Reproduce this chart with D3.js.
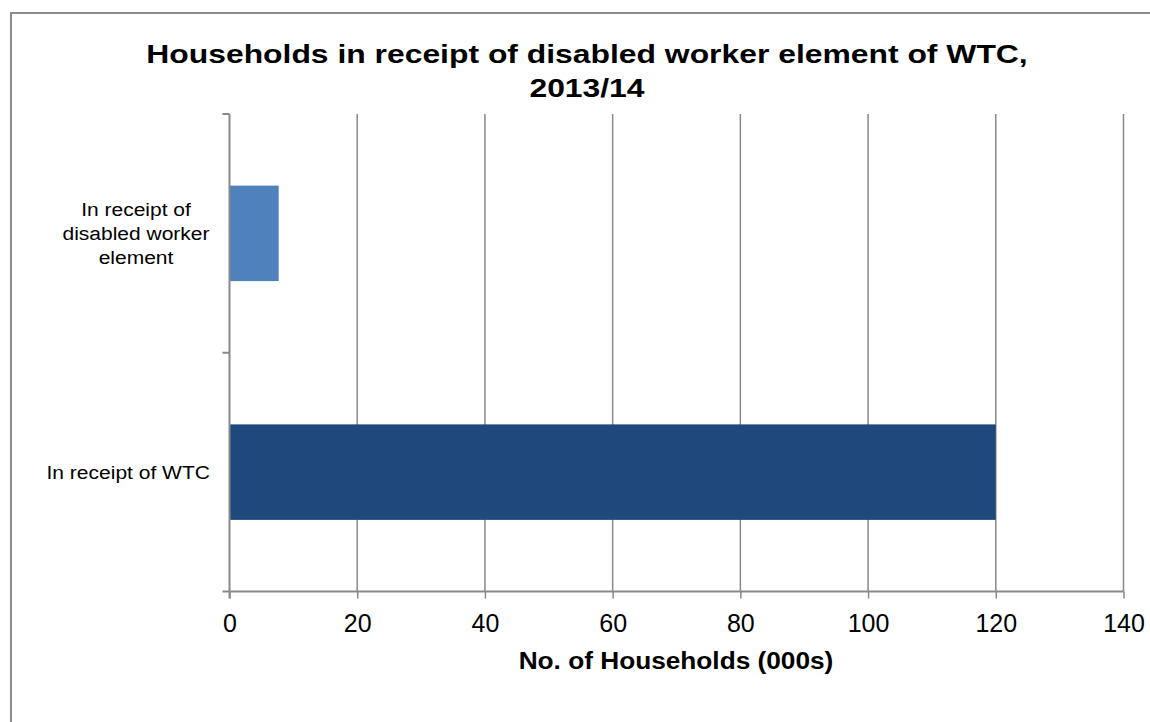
<!DOCTYPE html>
<html>
<head>
<meta charset="utf-8">
<script src="https://cdn.jsdelivr.net/npm/d3@7"></script>
<style>
  html, body { margin: 0; padding: 0; background: #fff; }
  svg { display: block; font-family: "Liberation Sans", Arial, sans-serif; }
</style>
</head>
<body>
<svg id="chart" width="1150" height="722"></svg>
<script>
// Categories (top to bottom) and values in thousands of households
const categories = ["In receipt of disabled worker element", "In receipt of WTC"];
const categoryLines = [["In receipt of", "disabled worker", "element"], ["In receipt of WTC"]];
const values = [7.7, 120];
const barColors = ["#4F81BD", "#1F497D"];
const xTicks = [0, 20, 40, 60, 80, 100, 120, 140];

const svg = d3.select("#chart");
const W = 1150, H = 722;
const plot = { left: 229.5, right: 1123.5, top: 114, bottom: 591.5 };
const gridColor = "#898989";

// Stretch a text element horizontally about its anchor x so it spans `width`
function stretchTo(sel, cx, width) {
  const w = sel.node().getBBox().width;
  const sx = width / w;
  sel.attr("transform", `translate(${cx},0) scale(${sx},1) translate(${-cx},0)`);
  return sx;
}

// Chart frame
svg.append("rect")
  .attr("x", 11).attr("y", 13)
  .attr("width", W + 10).attr("height", H + 10)
  .attr("fill", "#fff").attr("stroke", "#8a8a8a").attr("stroke-width", 2);

// Title
const title = svg.append("text")
  .attr("text-anchor", "middle")
  .attr("font-weight", "bold")
  .attr("font-size", 25)
  .attr("fill", "#000");
title.append("tspan").attr("x", 587).attr("y", 63)
  .text("Households in receipt of disabled worker element of WTC,");
title.append("tspan").attr("x", 587).attr("y", 97).text("2013/14");
stretchTo(title, 587, 882);

const x = d3.scaleLinear().domain([0, 140]).range([plot.left, plot.right]);
const y = d3.scaleBand().domain(categories)
  .range([plot.top, plot.bottom])
  .paddingInner(0.6).paddingOuter(0.3);

// Vertical gridlines
svg.append("g").selectAll("line")
  .data(xTicks.filter(d => d > 0))
  .join("line")
  .attr("x1", d => x(d)).attr("x2", d => x(d))
  .attr("y1", plot.top).attr("y2", plot.bottom)
  .attr("stroke", gridColor).attr("stroke-width", 1.5);

// Bars
svg.append("g").selectAll("rect")
  .data(categories)
  .join("rect")
  .attr("x", x(0))
  .attr("y", d => y(d))
  .attr("width", (d, i) => x(values[i]) - x(0))
  .attr("height", y.bandwidth())
  .attr("fill", (d, i) => barColors[i]);

// X axis
const xAxis = svg.append("g")
  .attr("transform", `translate(0,${plot.bottom})`)
  .call(d3.axisBottom(x).tickValues(xTicks).tickSize(7).tickSizeOuter(0).tickPadding(16));
xAxis.select(".domain").attr("stroke", gridColor).attr("stroke-width", 2)
  .attr("d", `M${plot.left - 7},0H${plot.right}`);
xAxis.selectAll(".tick line").attr("stroke", gridColor).attr("stroke-width", 1.5);
xAxis.selectAll(".tick text")
  .attr("font-family", "Liberation Sans, Arial, sans-serif")
  .attr("font-size", 25).attr("fill", "#000");

// Y axis line with boundary ticks between categories
const yAxisG = svg.append("g");
yAxisG.append("line")
  .attr("x1", plot.left).attr("x2", plot.left)
  .attr("y1", plot.top).attr("y2", plot.bottom + 7)
  .attr("stroke", gridColor).attr("stroke-width", 2);
const boundaries = [plot.top, plot.top + (plot.bottom - plot.top) / 2];
yAxisG.selectAll("line.tick")
  .data(boundaries)
  .join("line")
  .attr("class", "tick")
  .attr("x1", plot.left - 7).attr("x2", plot.left)
  .attr("y1", d => d).attr("y2", d => d)
  .attr("stroke", gridColor).attr("stroke-width", 2);

// Category labels: block right-aligned to x=210, lines centred inside the block
const labelSize = 19, lineH = 24, labelRight = 210;
let labelScale = null;
categories.forEach((c, i) => {
  const lines = categoryLines[i];
  const t = svg.append("text")
    .attr("font-size", labelSize).attr("fill", "#000")
    .attr("text-anchor", "middle");
  const cy = y(c) + y.bandwidth() / 2;
  const startY = cy - (lines.length - 1) * lineH / 2 + labelSize * 0.35;
  lines.forEach((ln, k) => {
    t.append("tspan").attr("x", 0).attr("y", startY + k * lineH).text(ln);
  });
  const bb = t.node().getBBox();
  if (labelScale === null) labelScale = 148 / bb.width; // widest line "disabled worker"
  const w = bb.width * labelScale;
  t.attr("transform", `translate(${labelRight - w / 2},0) scale(${labelScale},1)`);
});

// X axis title
const xTitle = svg.append("text")
  .attr("x", 676).attr("y", 669)
  .attr("text-anchor", "middle")
  .attr("font-weight", "bold")
  .attr("font-size", 24)
  .attr("fill", "#000")
  .text("No. of Households (000s)");
stretchTo(xTitle, 676, 315);
</script>
</body>
</html>
